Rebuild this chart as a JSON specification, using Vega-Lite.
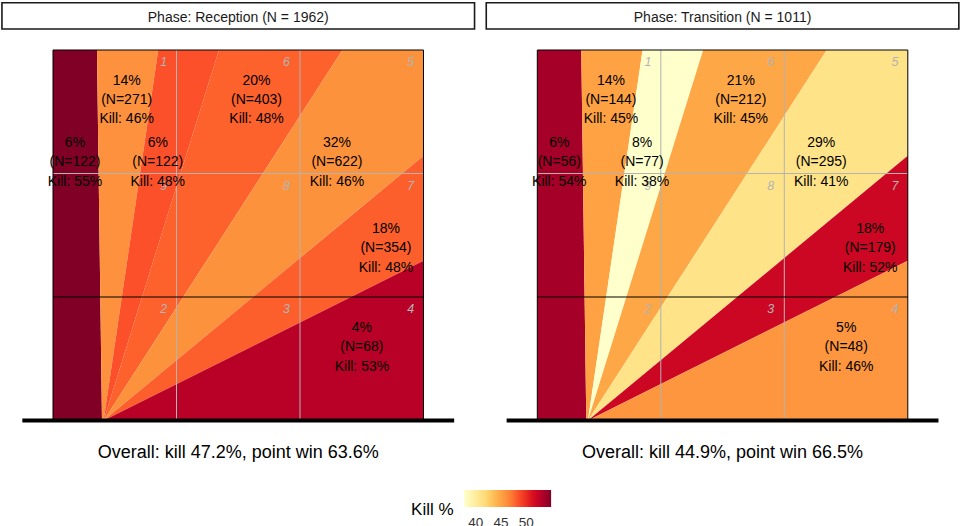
{
  "$schema": "https://vega.github.io/schema/vega-lite/v6.json",
  "padding": {"left": 1, "top": 1, "right": 0, "bottom": 0},
  "autosize": {"type": "pad"},
  "background": "white",
  "bounds": "flush",
  "spacing": 113.3,
  "config": {"font": "Liberation Sans", "view": {"stroke": null}},
  "resolve": {"scale": {"fill": "shared"}, "legend": {"fill": "shared"}},
  "datasets": {
    "geom": [
      {"w": 0, "x": 0, "y": 0, "y2": 9},
      {"w": 0, "x": 1.068, "y": 0, "y2": 9},
      {"w": 0, "x": 1.19, "y": 0, "y2": 0},
      {"w": 1, "x": 1.068, "y": 9, "y2": 9},
      {"w": 1, "x": 1.19, "y": 0, "y2": 9},
      {"w": 1, "x": 1.23, "y": 0, "y2": 9},
      {"w": 1, "x": 2.557, "y": 9, "y2": 9},
      {"w": 2, "x": 1.23, "y": 0, "y2": 0},
      {"w": 2, "x": 2.557, "y": 4.265, "y2": 9},
      {"w": 2, "x": 4.03, "y": 9, "y2": 9},
      {"w": 3, "x": 1.23, "y": 0, "y2": 0},
      {"w": 3, "x": 4.03, "y": 4.345, "y2": 9},
      {"w": 3, "x": 7.03, "y": 9, "y2": 9},
      {"w": 4, "x": 1.23, "y": 0, "y2": 0},
      {"w": 4, "x": 7.03, "y": 4.801, "y2": 9},
      {"w": 4, "x": 9, "y": 6.431, "y2": 9},
      {"w": 5, "x": 1.23, "y": 0, "y2": 0},
      {"w": 5, "x": 9, "y": 3.88, "y2": 6.431},
      {"w": 6, "x": 1.23, "y": 0, "y2": 0},
      {"w": 6, "x": 9, "y": 0, "y2": 3.88}
    ],
    "reception": [
      {"w": 0, "pct": 6, "n": 122, "kill": 54.9, "label": "6%\n(N=122)\nKill: 55%", "lx": 0.534, "ly": 6.739},
      {"w": 1, "pct": 14, "n": 271, "kill": 46.1, "label": "14%\n(N=271)\nKill: 46%", "lx": 1.789, "ly": 8.255},
      {"w": 2, "pct": 6, "n": 122, "kill": 48.4, "label": "6%\n(N=122)\nKill: 48%", "lx": 2.545, "ly": 6.739},
      {"w": 3, "pct": 20, "n": 403, "kill": 47.9, "label": "20%\n(N=403)\nKill: 48%", "lx": 4.944, "ly": 8.255},
      {"w": 4, "pct": 32, "n": 622, "kill": 46.0, "label": "32%\n(N=622)\nKill: 46%", "lx": 6.897, "ly": 6.739},
      {"w": 5, "pct": 18, "n": 354, "kill": 48.0, "label": "18%\n(N=354)\nKill: 48%", "lx": 8.087, "ly": 4.65},
      {"w": 6, "pct": 4, "n": 68, "kill": 52.9, "label": "4%\n(N=68)\nKill: 53%", "lx": 7.504, "ly": 2.245}
    ],
    "transition": [
      {"w": 0, "pct": 6, "n": 56, "kill": 53.6, "label": "6%\n(N=56)\nKill: 54%", "lx": 0.534, "ly": 6.739},
      {"w": 1, "pct": 14, "n": 144, "kill": 45.1, "label": "14%\n(N=144)\nKill: 45%", "lx": 1.789, "ly": 8.255},
      {"w": 2, "pct": 8, "n": 77, "kill": 37.7, "label": "8%\n(N=77)\nKill: 38%", "lx": 2.545, "ly": 6.739},
      {"w": 3, "pct": 21, "n": 212, "kill": 44.8, "label": "21%\n(N=212)\nKill: 45%", "lx": 4.944, "ly": 8.255},
      {"w": 4, "pct": 29, "n": 295, "kill": 41.0, "label": "29%\n(N=295)\nKill: 41%", "lx": 6.897, "ly": 6.739},
      {"w": 5, "pct": 18, "n": 179, "kill": 52.0, "label": "18%\n(N=179)\nKill: 52%", "lx": 8.087, "ly": 4.65},
      {"w": 6, "pct": 5, "n": 48, "kill": 45.8, "label": "5%\n(N=48)\nKill: 46%", "lx": 7.504, "ly": 2.245}
    ],
    "receptionPanel": [{"title": "Phase: Reception (N = 1962)", "overall": "Overall: kill 47.2%, point win 63.6%"}],
    "transitionPanel": [{"title": "Phase: Transition (N = 1011)", "overall": "Overall: kill 44.9%, point win 66.5%"}],
    "zones": [
      {"zone": "1", "x": 2.69, "y": 8.7}, {"zone": "6", "x": 5.67, "y": 8.7}, {"zone": "5", "x": 8.69, "y": 8.7},
      {"zone": "9", "x": 2.69, "y": 5.7}, {"zone": "8", "x": 5.67, "y": 5.7}, {"zone": "7", "x": 8.69, "y": 5.7},
      {"zone": "2", "x": 2.69, "y": 2.7}, {"zone": "3", "x": 5.67, "y": 2.7}, {"zone": "4", "x": 8.69, "y": 2.7}
    ]
  },
  "hconcat": [
    {
      "width": 370.5, "height": 370.5,
      "data": {"name": "receptionPanel"},
      "layer": [
        {
          "data": {"name": "geom"},
          "transform": [{"lookup": "w", "from": {"data": {"name": "reception"}, "key": "w", "fields": ["kill"]}}],
          "mark": {"type": "area", "opacity": 1},
          "encoding": {
            "x": {"field": "x", "type": "quantitative", "scale": {"domain": [0, 9], "nice": false, "zero": false}, "axis": null},
            "y": {"field": "y", "type": "quantitative", "scale": {"domain": [0, 9], "nice": false, "zero": false}, "axis": null, "stack": null},
            "y2": {"field": "y2"},
            "detail": {"field": "w", "type": "nominal"},
            "fill": {"field": "kill", "type": "quantitative",
              "scale": {"type": "linear", "domain": [37.7, 39.85, 42.0, 44.15, 46.3, 48.45, 50.6, 52.75, 54.9], "range": ["#ffffcc", "#ffeda0", "#fed976", "#feb24c", "#fd8d3c", "#fc4e2a", "#e31a1c", "#bd0026", "#800026"], "nice": false, "zero": false},
              "legend": {"type": "gradient", "title": "Kill %", "orient": "none", "legendX": 358.1, "legendY": 440, "direction": "horizontal", "titleOrient": "left", "titleAnchor": "middle", "titleBaseline": "line-top", "titleLineHeight": 22.5, "titleFontSize": 17, "titleFontWeight": "normal", "titleColor": "black", "titlePadding": 10, "gradientLength": 87, "gradientThickness": 17, "gradientStrokeWidth": 0, "labelFontSize": 13.5, "labelColor": "#333333", "labelOffset": 9, "values": [40, 45, 50]}}
          }
        },
        {"mark": {"type": "rule", "color": "#b3b3b3", "strokeWidth": 1}, "encoding": {"x": {"datum": 3}}},
        {"mark": {"type": "rule", "color": "#b3b3b3", "strokeWidth": 1}, "encoding": {"x": {"datum": 6}}},
        {"mark": {"type": "rule", "color": "#b3b3b3", "strokeWidth": 1}, "encoding": {"y": {"datum": 6}}},
        {"mark": {"type": "rule", "color": "black", "strokeWidth": 1}, "encoding": {"y": {"datum": 3}}},
        {"mark": {"type": "rect", "filled": false, "stroke": "black", "strokeWidth": 1}, "encoding": {"x": {"datum": 0}, "x2": {"datum": 9}, "y": {"datum": 0}, "y2": {"datum": 9}}},
        {
          "data": {"name": "zones"},
          "mark": {"type": "text", "fontSize": 12.5, "fontStyle": "italic", "color": "#b3b3b3", "align": "center", "baseline": "middle"},
          "encoding": {"x": {"field": "x", "type": "quantitative"}, "y": {"field": "y", "type": "quantitative"}, "text": {"field": "zone"}}
        },
        {
          "data": {"name": "reception"},
          "mark": {"type": "text", "fontSize": 14, "lineHeight": 19.4, "lineBreak": "\n", "align": "center", "baseline": "middle", "color": "black"},
          "encoding": {"x": {"field": "lx", "type": "quantitative"}, "y": {"field": "ly", "type": "quantitative"}, "text": {"field": "label"}}
        },
        {"mark": {"type": "rule", "color": "black", "strokeWidth": 4}, "encoding": {"x": {"datum": -0.745}, "x2": {"datum": 9.745}, "y": {"datum": 0}}},
        {"mark": {"type": "rect", "filled": false, "stroke": "#1a1a1a", "strokeWidth": 1.6}, "encoding": {"x": {"datum": -1.24}, "x2": {"datum": 10.24}, "y": {"datum": 9.509}, "y2": {"datum": 10.148}}},
        {"mark": {"type": "text", "fontSize": 14, "color": "#1a1a1a", "align": "center", "baseline": "alphabetic"}, "encoding": {"x": {"datum": 4.5}, "y": {"datum": 9.687}, "text": {"field": "title"}}},
        {"mark": {"type": "text", "fontSize": 18, "color": "black", "align": "center", "baseline": "alphabetic"}, "encoding": {"x": {"datum": 4.5}, "y": {"datum": -0.899}, "text": {"field": "overall"}}}
      ]
    },
    {
      "width": 370.5, "height": 370.5,
      "data": {"name": "transitionPanel"},
      "layer": [
        {
          "data": {"name": "geom"},
          "transform": [{"lookup": "w", "from": {"data": {"name": "transition"}, "key": "w", "fields": ["kill"]}}],
          "mark": {"type": "area", "opacity": 1},
          "encoding": {
            "x": {"field": "x", "type": "quantitative", "scale": {"domain": [0, 9], "nice": false, "zero": false}, "axis": null},
            "y": {"field": "y", "type": "quantitative", "scale": {"domain": [0, 9], "nice": false, "zero": false}, "axis": null, "stack": null},
            "y2": {"field": "y2"},
            "detail": {"field": "w", "type": "nominal"},
            "fill": {"field": "kill", "type": "quantitative",
              "scale": {"type": "linear", "domain": [37.7, 39.85, 42.0, 44.15, 46.3, 48.45, 50.6, 52.75, 54.9], "range": ["#ffffcc", "#ffeda0", "#fed976", "#feb24c", "#fd8d3c", "#fc4e2a", "#e31a1c", "#bd0026", "#800026"], "nice": false, "zero": false}}
          }
        },
        {"mark": {"type": "rule", "color": "#b3b3b3", "strokeWidth": 1}, "encoding": {"x": {"datum": 3}}},
        {"mark": {"type": "rule", "color": "#b3b3b3", "strokeWidth": 1}, "encoding": {"x": {"datum": 6}}},
        {"mark": {"type": "rule", "color": "#b3b3b3", "strokeWidth": 1}, "encoding": {"y": {"datum": 6}}},
        {"mark": {"type": "rule", "color": "black", "strokeWidth": 1}, "encoding": {"y": {"datum": 3}}},
        {"mark": {"type": "rect", "filled": false, "stroke": "black", "strokeWidth": 1}, "encoding": {"x": {"datum": 0}, "x2": {"datum": 9}, "y": {"datum": 0}, "y2": {"datum": 9}}},
        {
          "data": {"name": "zones"},
          "mark": {"type": "text", "fontSize": 12.5, "fontStyle": "italic", "color": "#b3b3b3", "align": "center", "baseline": "middle"},
          "encoding": {"x": {"field": "x", "type": "quantitative"}, "y": {"field": "y", "type": "quantitative"}, "text": {"field": "zone"}}
        },
        {
          "data": {"name": "transition"},
          "mark": {"type": "text", "fontSize": 14, "lineHeight": 19.4, "lineBreak": "\n", "align": "center", "baseline": "middle", "color": "black"},
          "encoding": {"x": {"field": "lx", "type": "quantitative"}, "y": {"field": "ly", "type": "quantitative"}, "text": {"field": "label"}}
        },
        {"mark": {"type": "rule", "color": "black", "strokeWidth": 4}, "encoding": {"x": {"datum": -0.745}, "x2": {"datum": 9.745}, "y": {"datum": 0}}},
        {"mark": {"type": "rect", "filled": false, "stroke": "#1a1a1a", "strokeWidth": 1.6}, "encoding": {"x": {"datum": -1.24}, "x2": {"datum": 10.24}, "y": {"datum": 9.509}, "y2": {"datum": 10.148}}},
        {"mark": {"type": "text", "fontSize": 14, "color": "#1a1a1a", "align": "center", "baseline": "alphabetic"}, "encoding": {"x": {"datum": 4.5}, "y": {"datum": 9.687}, "text": {"field": "title"}}},
        {"mark": {"type": "text", "fontSize": 18, "color": "black", "align": "center", "baseline": "alphabetic"}, "encoding": {"x": {"datum": 4.5}, "y": {"datum": -0.899}, "text": {"field": "overall"}}}
      ]
    }
  ]
}
